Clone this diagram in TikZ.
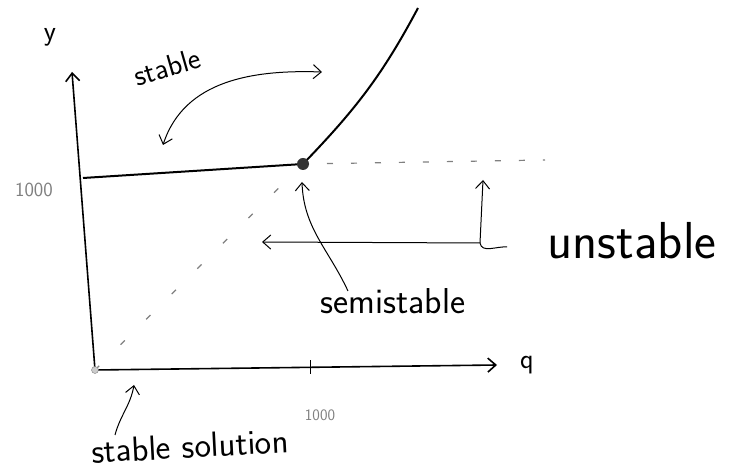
\documentclass[tikz,border=0pt]{standalone}
\usetikzlibrary{arrows.meta}

\begin{document}
\begin{tikzpicture}[x=1pt,y=1pt,>={Straight Barb[length=8pt,width=14pt]},
      axis/.style={line width=1.6pt,->},
      curve/.style={line width=2pt},
      guide/.style={line width=1.2pt,gray,dash pattern=on 6pt off 18pt},
      note/.style={line width=1pt,->},
      lbl/.style={font=\sffamily\fontsize{#1}{#1}\selectfont}]
    \useasboundingbox (0,0) rectangle (731,473);
    \coordinate (O) at (95,103);
    \coordinate (ytop) at (72,401);
    \coordinate (xend) at (497,108);
    \coordinate (xt) at (310,106);
    \coordinate (lstart) at (83,295);
    \coordinate (P) at (303,309);
    \coordinate (top) at (418,465);
    \coordinate (gend) at (545,313);
    \draw[axis] (O) -- (ytop);
    \draw[axis] (O) -- (xend);
    \draw[line width=1pt] ([yshift=-7pt]xt) -- ([yshift=7pt]xt);
    \draw[curve] (lstart) -- (P);
    \draw[curve] (P) to[out=46,in=242] (top);
    \draw[guide] (P) -- (gend);
    \draw[guide,dash pattern=on 6pt off 30pt] (O) -- (P);
    \fill[black!80] (P) circle (6pt);
    \draw[gray,fill=gray!40] (O) circle (3.5pt);

    \node[lbl=28] (ylab) at (50,436) {y};
    \node[lbl=28] (qlab) at (527,108) {q};
    \node[lbl=20,gray] (ymark) at (34,283) {1000};
    \node[lbl=16,gray] (xmark) at (320,58) {1000};
    \node[lbl=30,rotate=16] (stab) at (167,406) {stable};
    \node[lbl=52] (unst) at (632,232) {unstable};
    \node[lbl=36] (semi) at (393,172) {semistable};
    \node[lbl=35,rotate=3] (stsol) at (190,27) {stable solution};

    \coordinate (sl) at (163,328);
    \coordinate (sr) at (322,401);
    \draw[note,<->] (sl) to[out=72,in=178] (sr);
    \coordinate (semitail) at (348,182);
    \coordinate (semitip) at (302,291);
    \draw[note] (semitail) to[out=115,in=-88] (semitip);
    \coordinate (uhook) at (507,226);
    \coordinate (ujoin) at (480,230);
    \coordinate (uleft) at (262,231);
    \coordinate (uup) at (483,293);
    \draw[line width=1pt] (uhook) to[out=175,in=-80] (ujoin);
    \draw[note] (ujoin) -- (uleft);
    \draw[note] (ujoin) -- (uup);
    \coordinate (soltail) at (115,38);
    \coordinate (soltip) at (134,88);
    \draw[note] (soltail) to[out=75,in=-100] (soltip);
  \end{tikzpicture}
\end{document}
